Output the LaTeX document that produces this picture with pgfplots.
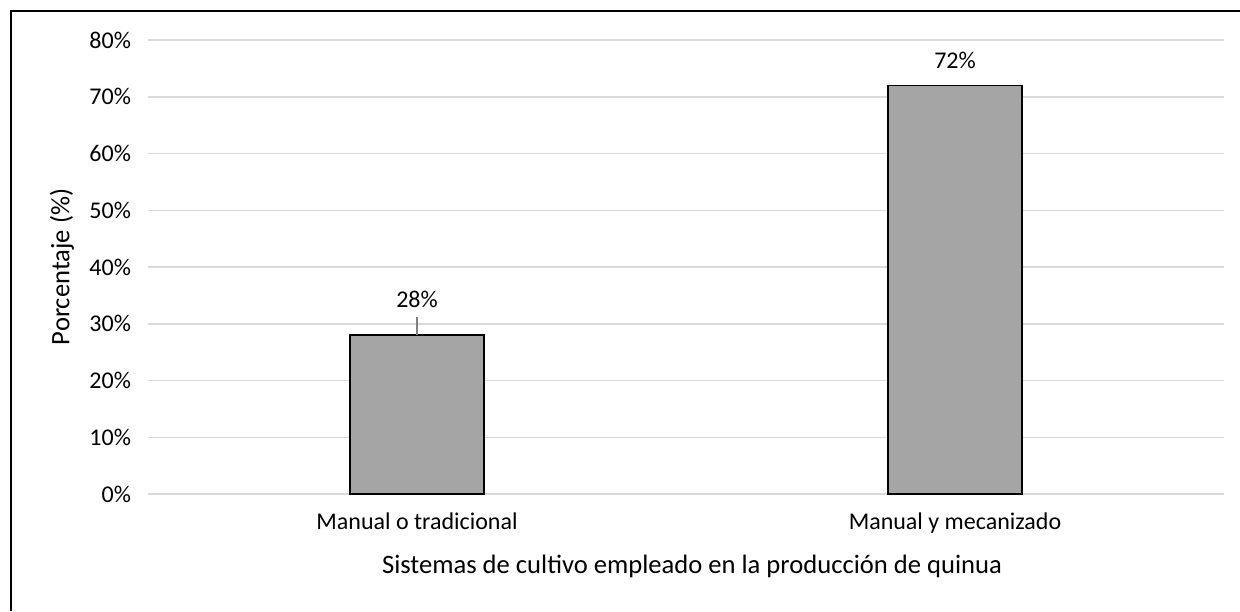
\documentclass[border=0pt]{standalone}
\usepackage{pgfplots}
\pgfplotsset{compat=1.18}
\usepackage{fontspec}
\setmainfont{Carlito}
\definecolor{bargray}{RGB}{165,165,165}
\definecolor{gridgray}{RGB}{217,217,217}

\begin{document}
\begin{tikzpicture}[x=1pt,y=1pt]
	% page: 1240x611 px at 0.5pt/px, origin at the axis's lower left
	\path[use as bounding box] (-74,-58.5) rectangle (546,247);
	\draw[line width=1pt] (-68.5,-58.5) -- (-68.5,241.5) -- (546,241.5);
	\begin{axis}[
		at={(0,0)}, anchor=south west,
		scale only axis,
		width=538pt, height=227pt,
		xmin=-0.5, xmax=1.5,
		ymin=0, ymax=80,
		xtick={0,1},
		xticklabels={Manual o tradicional, Manual y mecanizado},
		ytick={0,10,...,80},
		yticklabel={\pgfmathparse{int(\tick)}\pgfmathresult\%},
		/pgf/number format/assume math mode=true,
		axis line style={draw=none},
		tick style={draw=none},
		major tick length=0pt,
		ymajorgrids=true,
		grid style={gridgray, line width=0.75pt},
		tick label style={font=\fontsize{12}{14}\selectfont},
		yticklabel style={xshift=-5pt},
		xticklabel style={yshift=-6pt},
		xlabel={Sistemas de cultivo empleado en la producción de quinua},
		ylabel={Porcentaje (\%)},
		label style={font=\fontsize{13.3}{15}\selectfont},
		xlabel style={at={(axis description cs:0.5,0)}, anchor=center, xshift=3pt, yshift=-36pt},
		ylabel style={at={(axis description cs:-0.08,0.5)}, anchor=center},
		ybar, bar width=0.25, bar shift=0pt,
		nodes near coords={\pgfmathprintnumber{\pgfplotspointmeta}\%},
		nodes near coords style={font=\fontsize{12}{14}\selectfont, anchor=center, black},
	]
		\addplot[fill=bargray, draw=black, line width=0.8pt,
			nodes near coords style={yshift=18pt},
			error bars/.cd, y dir=plus, y explicit,
			error mark=none, error bar style={gray, line width=0.6pt}]
			coordinates {(0,28) +- (0,3.2)};
		\addplot[fill=bargray, draw=black, line width=0.8pt,
			nodes near coords style={yshift=12.5pt}]
			coordinates {(1,72)};
	\end{axis}
\end{tikzpicture}
\end{document}
